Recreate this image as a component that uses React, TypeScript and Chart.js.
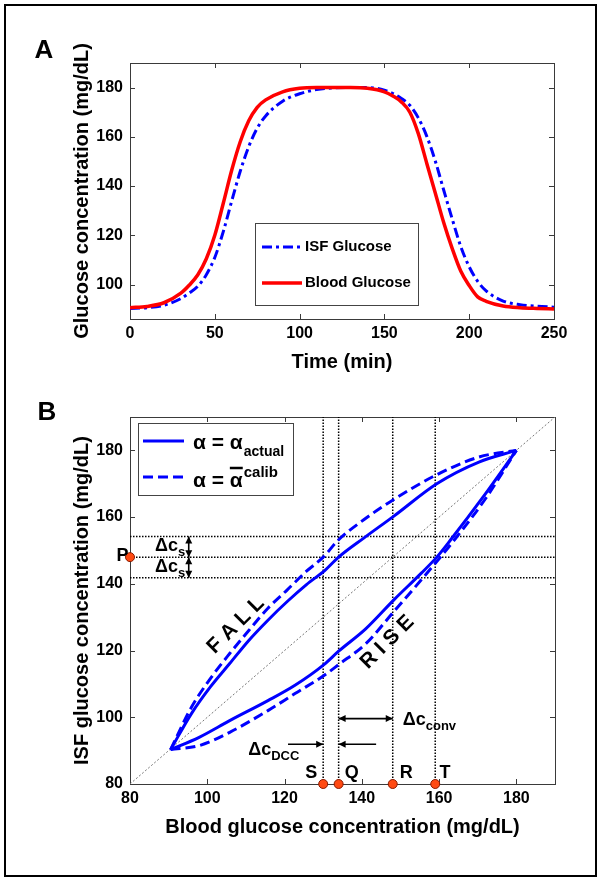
import React, { useEffect, useRef } from "react";
import { Chart, registerables } from "chart.js";

Chart.register(...registerables);

const FONT = '"Liberation Sans", Arial, Helvetica, sans-serif';

// ---------------- Panel A data ----------------
const timeMin = [0, 10, 20, 30, 35, 40, 45, 50, 55, 60, 65, 70, 75, 80, 90, 100, 110, 120, 130, 140, 150, 155, 160, 165, 170, 175, 180, 185, 190, 195, 200, 205, 210, 220, 230, 240, 250];
const bloodGlucose = [90.6, 91.1, 92.6, 96.5, 99.8, 104, 110.5, 120, 133, 146.5, 158, 166.5, 172, 175, 178.3, 179.7, 180, 180, 180, 179.7, 178.3, 176.6, 174.2, 170, 161.3, 149.2, 137.2, 125.1, 114.6, 105.5, 99.6, 95, 93.2, 91.3, 90.6, 90.3, 90.1];
const isfGlucose = [90.3, 90.6, 91.6, 94.3, 96.6, 99.3, 104, 111, 121.5, 134, 146, 156, 163.5, 168.5, 174.5, 177.5, 179.2, 179.9, 180, 180, 179, 177.6, 175.6, 172.8, 167.7, 160.2, 150.2, 138.3, 126.6, 115.5, 107.2, 101.3, 97.4, 93.3, 91.8, 91.2, 90.8];
const timeTicks = [0, 50, 100, 150, 200, 250];
const glucoseTicksA = [100, 120, 140, 160, 180];

// ---------------- Panel B data ----------------
const fallActualBG = [90.5, 95.9, 100.8, 105.8, 110.8, 115.7, 120.7, 125.6, 130.6, 134, 140.5, 148.3, 159.4, 170.3, 180];
const fallActualISF = [90.3, 101.1, 109.1, 116.1, 123.1, 129.1, 134.7, 139.7, 144.2, 148, 153.7, 160.3, 170, 176.5, 180];
const fallCalibBG = [90.5, 95.9, 100.8, 105.8, 110.8, 115.7, 120.7, 125.6, 130, 134, 140.5, 148.3, 159.4, 170.3, 180];
const fallCalibISF = [90.3, 103, 111.6, 119.1, 126.1, 132.7, 138.2, 143.7, 148, 153.2, 159.2, 165.3, 172.7, 178, 180];
const riseActualBG = [90.5, 97.9, 105.8, 115.7, 122.7, 130.2, 134, 141, 148.3, 155.4, 159.4, 163, 171.5, 180];
const riseActualISF = [90.3, 94, 99, 105, 109.6, 115.8, 119.8, 126.5, 135.2, 143.2, 148, 153.2, 166.2, 180];
const riseCalibBG = [90.5, 97.9, 105.8, 115.7, 122.7, 130.2, 134, 141, 148.3, 155.4, 159.4, 163.5, 172, 180];
const riseCalibISF = [90.3, 91.5, 95.5, 102, 107.1, 112.5, 115.8, 122, 131.7, 141.2, 146.7, 152.5, 165.5, 180];
const bgTicksB = [80, 100, 120, 140, 160, 180];
const isfTicksB = [80, 100, 120, 140, 160, 180];
const identityEnds = [80, 190];
const markerNames = ["S", "Q", "R", "T"];
const markerBG = [130, 134, 148, 159];
const isfLevels = [154.2, 148, 141.8];
const pointP_ISF = 148;

const zip = (xs: number[], ys: number[]) => xs.map((x, i) => ({ x, y: ys[i] }));

function txt(ctx: CanvasRenderingContext2D, s: string, x: number, y: number, size: number, align: CanvasTextAlign = "left") {
  ctx.font = `bold ${size}px ${FONT}`;
  ctx.textAlign = align;
  ctx.textBaseline = "middle";
  ctx.fillStyle = "#000";
  ctx.fillText(s, x, y);
  return ctx.measureText(s).width;
}

function subText(ctx: CanvasRenderingContext2D, main: string, sub: string, x: number, y: number, mainSize: number, subSize: number, dy: number) {
  const w = txt(ctx, main, x, y, mainSize);
  txt(ctx, sub, x + w, y + dy, subSize);
}

function arrowHead(ctx: CanvasRenderingContext2D, x: number, y: number, ang: number) {
  const len = 7, half = 3.5;
  ctx.beginPath();
  ctx.moveTo(x, y);
  ctx.lineTo(x - len * Math.cos(ang) + half * Math.sin(ang), y - len * Math.sin(ang) - half * Math.cos(ang));
  ctx.lineTo(x - len * Math.cos(ang) - half * Math.sin(ang), y - len * Math.sin(ang) + half * Math.cos(ang));
  ctx.closePath();
  ctx.fill();
}

function arrow(ctx: CanvasRenderingContext2D, x1: number, y1: number, x2: number, y2: number, startHead: boolean, endHead: boolean) {
  ctx.save();
  ctx.setLineDash([]);
  ctx.strokeStyle = "#000";
  ctx.fillStyle = "#000";
  ctx.lineWidth = 1.6;
  ctx.beginPath();
  ctx.moveTo(x1, y1);
  ctx.lineTo(x2, y2);
  ctx.stroke();
  const ang = Math.atan2(y2 - y1, x2 - x1);
  if (endHead) arrowHead(ctx, x2, y2, ang);
  if (startHead) arrowHead(ctx, x1, y1, ang + Math.PI);
  ctx.restore();
}

function drawFrame(chart: any, xTicks: number[], yTicks: number[]) {
  const { ctx, chartArea: a, scales } = chart;
  ctx.save();
  ctx.setLineDash([]);
  ctx.strokeStyle = "#3a3a3a";
  ctx.lineWidth = 1;
  ctx.strokeRect(Math.round(a.left) + 0.5, Math.round(a.top) + 0.5, Math.round(a.right - a.left), Math.round(a.bottom - a.top));
  const L = 5;
  ctx.beginPath();
  for (const v of xTicks) {
    const px = Math.round(scales.x.getPixelForValue(v)) + 0.5;
    ctx.moveTo(px, a.bottom); ctx.lineTo(px, a.bottom - L);
    ctx.moveTo(px, a.top); ctx.lineTo(px, a.top + L);
  }
  for (const v of yTicks) {
    const py = Math.round(scales.y.getPixelForValue(v)) + 0.5;
    ctx.moveTo(a.left, py); ctx.lineTo(a.left + L, py);
    ctx.moveTo(a.right, py); ctx.lineTo(a.right - L, py);
  }
  ctx.stroke();
  ctx.restore();
}

const tickFont = { family: FONT, size: 16, weight: "bold" as const };
const titleFont = { family: FONT, size: 20, weight: "bold" as const };
const noGrid = { display: false, drawTicks: false, tickLength: 0 };

function makeA(canvas: HTMLCanvasElement) {
  const plugin = {
    id: "panelA",
    beforeDatasetsDraw(chart: any) {
      drawFrame(chart, timeTicks, glucoseTicksA);
    },
    afterDatasetsDraw(chart: any) {
      const ctx = chart.ctx as CanvasRenderingContext2D;
      const a = chart.chartArea;
      ctx.save();
      txt(ctx, "A", 44, 51, 26, "center");
      const bx = a.left + 125, by = a.top + 160, bw = 163, bh = 82;
      ctx.fillStyle = "#fff";
      ctx.fillRect(bx, by, bw, bh);
      ctx.strokeStyle = "#444";
      ctx.lineWidth = 1;
      ctx.strokeRect(bx + 0.5, by + 0.5, bw, bh);
      ctx.strokeStyle = "#0000ff";
      ctx.lineWidth = 3;
      ctx.setLineDash([10, 4, 3, 4]);
      ctx.beginPath(); ctx.moveTo(bx + 7, by + 24); ctx.lineTo(bx + 47, by + 24); ctx.stroke();
      ctx.setLineDash([]);
      ctx.strokeStyle = "#ff0000";
      ctx.lineWidth = 3.5;
      ctx.beginPath(); ctx.moveTo(bx + 7, by + 60); ctx.lineTo(bx + 47, by + 60); ctx.stroke();
      txt(ctx, "ISF Glucose", bx + 50, by + 24, 15);
      txt(ctx, "Blood Glucose", bx + 50, by + 60, 15);
      ctx.restore();
    },
  };
  return new Chart(canvas, {
    type: "line",
    data: {
      datasets: [
        {
          label: "Blood Glucose",
          data: zip(timeMin, bloodGlucose),
          borderColor: "#ff0000",
          borderWidth: 3.5,
          pointRadius: 0,
          cubicInterpolationMode: "monotone",
        },
        {
          label: "ISF Glucose",
          data: zip(timeMin, isfGlucose),
          borderColor: "#0000ff",
          borderWidth: 3,
          borderDash: [10, 4, 3, 4],
          pointRadius: 0,
          cubicInterpolationMode: "monotone",
        },
      ],
    },
    options: {
      responsive: false,
      animation: false,
      events: [],
      layout: { autoPadding: false, padding: { left: 0, top: 63, right: 47, bottom: 0 } },
      plugins: { legend: { display: false }, tooltip: { enabled: false } },
      scales: {
        x: {
          type: "linear",
          min: 0,
          max: 250,
          afterBuildTicks: (s: any) => { s.ticks = timeTicks.map((v) => ({ value: v })); },
          afterFit: (s: any) => { s.height = 81; },
          grid: noGrid,
          border: { display: false },
          ticks: { font: tickFont, color: "#000", padding: 5, maxRotation: 0, autoSkip: false },
          title: { display: true, text: "Time (min)", font: titleFont, color: "#000", padding: { top: 0, bottom: 26 } },
        },
        y: {
          type: "linear",
          min: 86,
          max: 190,
          afterBuildTicks: (s: any) => { s.ticks = glucoseTicksA.map((v) => ({ value: v })); },
          afterFit: (s: any) => { s.width = 130; },
          grid: noGrid,
          border: { display: false },
          ticks: { font: tickFont, color: "#000", padding: 7, autoSkip: false },
          title: { display: true, text: "Glucose concentration (mg/dL)", font: titleFont, color: "#000", padding: { top: 70, bottom: 0 } },
        },
      },
    } as any,
    plugins: [plugin],
  });
}

function makeB(canvas: HTMLCanvasElement) {
  const plugin = {
    id: "panelB",
    beforeDatasetsDraw(chart: any) {
      drawFrame(chart, bgTicksB, isfTicksB);
    },
    afterDatasetsDraw(chart: any) {
      const ctx = chart.ctx as CanvasRenderingContext2D;
      const a = chart.chartArea;
      const X = (v: number) => chart.scales.x.getPixelForValue(v);
      const Y = (v: number) => chart.scales.y.getPixelForValue(v);
      ctx.save();
      txt(ctx, "B", 47, 13, 26, "center");

      // P label
      txt(ctx, "P", X(79.6), Y(pointP_ISF) - 1, 18, "right");
      // S Q R T labels
      const labelBG = [126.9, 137.4, 151.5, 161.5];
      markerNames.forEach((n, i) => txt(ctx, n, X(labelBG[i]), Y(83.4), 18, "center"));

      // FALL / RISE
      const rot = (s: string, xv: number, yv: number) => {
        ctx.save();
        ctx.translate(X(xv), Y(yv));
        ctx.rotate(-Math.PI / 4);
        txt(ctx, s, 0, 0, 21, "center");
        ctx.restore();
      };
      rot("F A L L", 107.4, 127.6);
      rot("R I S E", 146.6, 122.5);

      // Δc_s arrows and labels
      const ax = X(95.2);
      arrow(ctx, ax, Y(isfLevels[0]), ax, Y(isfLevels[1]), true, true);
      arrow(ctx, ax, Y(isfLevels[1]), ax, Y(isfLevels[2]), true, true);
      subText(ctx, "Δc", "s", X(86.5), Y(151.3), 18, 13, 6);
      subText(ctx, "Δc", "s", X(86.5), Y(144.9), 18, 13, 6);

      // Δc_conv
      arrow(ctx, X(markerBG[1]), Y(99.6), X(markerBG[2]), Y(99.6), true, true);
      subText(ctx, "Δc", "conv", X(150.6), Y(99.2), 18, 13, 6);

      // Δc_DCC
      arrow(ctx, X(120.9), Y(91.9), X(markerBG[0]), Y(91.9), false, true);
      arrow(ctx, X(143.7), Y(91.9), X(markerBG[1]), Y(91.9), false, true);
      subText(ctx, "Δc", "DCC", X(110.6), Y(90.2), 18, 13, 6);

      // Legend
      const bx = a.left + 8, by = a.top + 6, bw = 155, bh = 72;
      ctx.fillStyle = "#fff";
      ctx.fillRect(bx, by, bw, bh);
      ctx.strokeStyle = "#444";
      ctx.lineWidth = 1;
      ctx.setLineDash([]);
      ctx.strokeRect(bx + 0.5, by + 0.5, bw, bh);
      ctx.strokeStyle = "#0000ff";
      ctx.lineWidth = 3;
      ctx.beginPath(); ctx.moveTo(a.left + 13, a.top + 24); ctx.lineTo(a.left + 54, a.top + 24); ctx.stroke();
      ctx.setLineDash([10, 5]);
      ctx.beginPath(); ctx.moveTo(a.left + 13, a.top + 60); ctx.lineTo(a.left + 54, a.top + 60); ctx.stroke();
      ctx.setLineDash([]);
      const x0 = a.left + 63;
      const w1 = txt(ctx, "α = α", x0, a.top + 26, 21);
      txt(ctx, "actual", x0 + w1 + 1, a.top + 35, 14);
      const w2 = txt(ctx, "α = α", x0, a.top + 64, 21);
      ctx.font = `bold 21px ${FONT}`;
      const wPre = ctx.measureText("α = ").width;
      ctx.strokeStyle = "#000";
      ctx.lineWidth = 2.5;
      ctx.beginPath(); ctx.moveTo(x0 + wPre, a.top + 51); ctx.lineTo(x0 + w2, a.top + 51); ctx.stroke();
      txt(ctx, "calib", x0 + w2 + 1, a.top + 56, 15);
      ctx.restore();
    },
  };

  const dotted = { borderColor: "#000", borderWidth: 1.5, borderDash: [1.5, 1.5], pointRadius: 0 };
  const verticals = markerBG.map((b) => ({ ...dotted, data: [{ x: b, y: 80 }, { x: b, y: 190 }] }));
  const horizontals = isfLevels.map((l) => ({ ...dotted, data: [{ x: 80, y: l }, { x: 190, y: l }] }));

  return new Chart(canvas, {
    type: "line",
    data: {
      datasets: [
        {
          data: [{ x: 80, y: pointP_ISF }, ...markerBG.map((b) => ({ x: b, y: 80 }))],
          showLine: false,
          pointRadius: 4.5,
          pointBackgroundColor: "#ff4a12",
          pointBorderColor: "#8a1a00",
          pointBorderWidth: 1,
          clip: false,
        },
        { data: zip(fallActualBG, fallActualISF), borderColor: "#0000ff", borderWidth: 3, pointRadius: 0, cubicInterpolationMode: "monotone" },
        { data: zip(riseActualBG, riseActualISF), borderColor: "#0000ff", borderWidth: 3, pointRadius: 0, cubicInterpolationMode: "monotone" },
        { data: zip(fallCalibBG, fallCalibISF), borderColor: "#0000ff", borderWidth: 3, borderDash: [10, 5], pointRadius: 0, cubicInterpolationMode: "monotone" },
        { data: zip(riseCalibBG, riseCalibISF), borderColor: "#0000ff", borderWidth: 3, borderDash: [10, 5], pointRadius: 0, cubicInterpolationMode: "monotone" },
        ...verticals,
        ...horizontals,
        { data: zip(identityEnds, identityEnds), borderColor: "#777", borderWidth: 1, borderDash: [2, 2], pointRadius: 0 },
      ],
    },
    options: {
      responsive: false,
      animation: false,
      events: [],
      layout: { autoPadding: false, padding: { left: 0, top: 17, right: 46, bottom: 0 } },
      plugins: { legend: { display: false }, tooltip: { enabled: false } },
      scales: {
        x: {
          type: "linear",
          min: 80,
          max: 190,
          afterBuildTicks: (s: any) => { s.ticks = bgTicksB.map((v) => ({ value: v })); },
          afterFit: (s: any) => { s.height = 98; },
          grid: noGrid,
          border: { display: false },
          ticks: { font: tickFont, color: "#000", padding: 5, maxRotation: 0, autoSkip: false },
          title: { display: true, text: "Blood glucose concentration (mg/dL)", font: titleFont, color: "#000", padding: { top: 0, bottom: 43 } },
        },
        y: {
          type: "linear",
          min: 80,
          max: 190,
          afterBuildTicks: (s: any) => { s.ticks = isfTicksB.map((v) => ({ value: v })); },
          afterFit: (s: any) => { s.width = 130; },
          grid: noGrid,
          border: { display: false },
          ticks: { font: tickFont, color: "#000", padding: 7, autoSkip: false },
          title: { display: true, text: "ISF glucose concentration (mg/dL)", font: titleFont, color: "#000", padding: { top: 70, bottom: 0 } },
        },
      },
    } as any,
    plugins: [plugin],
  });
}

export default function App() {
  const refA = useRef<HTMLCanvasElement>(null);
  const refB = useRef<HTMLCanvasElement>(null);
  useEffect(() => {
    const ca = makeA(refA.current!);
    const cb = makeB(refB.current!);
    return () => {
      ca.destroy();
      cb.destroy();
    };
  }, []);
  return (
    <div style={{ position: "absolute", left: 0, top: 0, width: 601, height: 882, background: "#fff" }}>
      <div style={{ position: "absolute", left: 4, top: 4, width: 593, height: 873, border: "2px solid #000", boxSizing: "border-box" }} />
      <canvas ref={refA} width={601} height={400} style={{ position: "absolute", left: 0, top: 0 }} />
      <canvas ref={refB} width={601} height={482} style={{ position: "absolute", left: 0, top: 400 }} />
    </div>
  );
}
